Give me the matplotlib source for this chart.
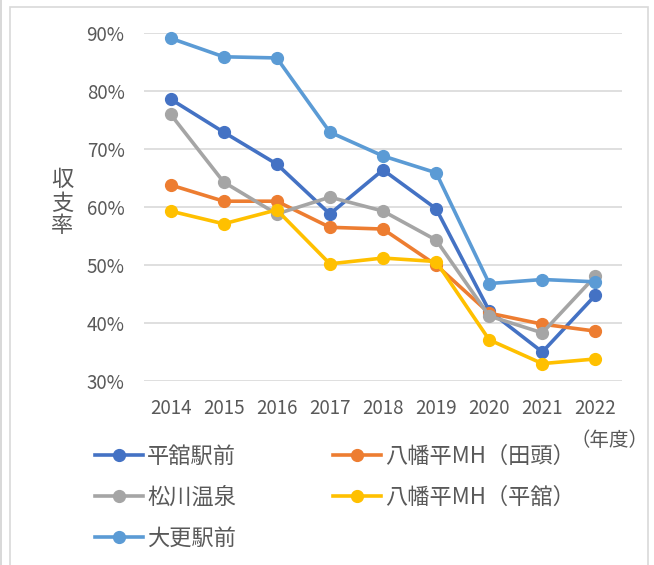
import matplotlib
matplotlib.use('Agg')
import matplotlib.pyplot as plt
from matplotlib.patches import Rectangle
from matplotlib.ticker import FuncFormatter

plt.rcParams['font.family'] = ['Noto Sans CJK JP', 'DejaVu Sans']

years = ['2014', '2015', '2016', '2017', '2018', '2019', '2020', '2021', '2022']
series_names = ['平舘駅前', '八幡平MH（田頭）', '松川温泉', '八幡平MH（平舘）', '大更駅前']
hirodate = [78.6, 72.9, 67.4, 58.8, 66.4, 59.7, 42.1, 35.0, 44.8]
tagashira = [63.8, 61.0, 61.0, 56.5, 56.2, 50.0, 41.7, 39.8, 38.6]
matsukawa = [76.0, 64.3, 58.8, 61.7, 59.3, 54.3, 41.2, 38.3, 48.1]
mh_hirodate = [59.3, 57.1, 59.5, 50.2, 51.2, 50.6, 37.1, 33.0, 33.8]
ubuka = [89.1, 85.9, 85.7, 72.9, 68.8, 65.9, 46.8, 47.5, 47.1]
colors = ['#4472C4', '#ED7D31', '#A5A5A5', '#FFC000', '#5B9BD5']

W, H = 654, 565
fig = plt.figure(figsize=(W / 100, H / 100), dpi=100)

# 外枠
fig.patches.append(Rectangle((10 / W, -0.02), 638 / W, 1.02 - 7 / H, transform=fig.transFigure,
                             fill=False, edgecolor='#D9D9D9', linewidth=1.2))
fig.patches.append(Rectangle((0, -0.02), 1.5 / W, 1.04, transform=fig.transFigure,
                             facecolor='#D9D9D9', edgecolor='none'))

ax = fig.add_axes([144 / W, 1 - 381 / H, 478 / W, 348 / H])

data = [hirodate, tagashira, matsukawa, mh_hirodate, ubuka]
x = range(len(years))
lines = []
for vals, name, c in zip(data, series_names, colors):
    ln, = ax.plot(x, vals, color=c, linewidth=2.6, marker='o', markersize=8.5,
                  label=name, clip_on=False, zorder=3)
    lines.append(ln)

ax.set_xlim(-0.5, len(years) - 0.5)
ax.set_ylim(30, 90)
ax.set_yticks(range(30, 91, 10))
ax.yaxis.set_major_formatter(FuncFormatter(lambda v, p: f'{v:.0f}%'))
ax.set_xticks(list(x))
ax.set_xticklabels(years)
ax.grid(axis='y', color='#D9D9D9', linewidth=1.2, zorder=0)
ax.set_axisbelow(True)
for s in ax.spines.values():
    s.set_visible(False)
ax.tick_params(length=0, labelsize=13.5, colors='#595959')
ax.tick_params(axis='y', pad=14)
ax.tick_params(axis='x', pad=12)

fig.text(62 / W, 1 - 203 / H, '収\n支\n率', ha='center', va='center', fontsize=16,
         color='#595959', linespacing=1.0)
fig.text(609 / W, 1 - 440 / H, '（年度）', ha='center', va='center', fontsize=14,
         color='#595959')

order = [0, 2, 4, 1, 3]
leg = fig.legend([lines[i] for i in order], [series_names[i] for i in order],
                 loc='upper left', bbox_to_anchor=(95 / W, 1 - 445 / H), ncol=2,
                 frameon=False, fontsize=16, handlelength=2.15, handletextpad=0.2,
                 columnspacing=4.35, labelspacing=0.8, borderpad=0, borderaxespad=0)
for t in leg.get_texts():
    t.set_color('#595959')

fig.savefig('out.png', dpi=100)
